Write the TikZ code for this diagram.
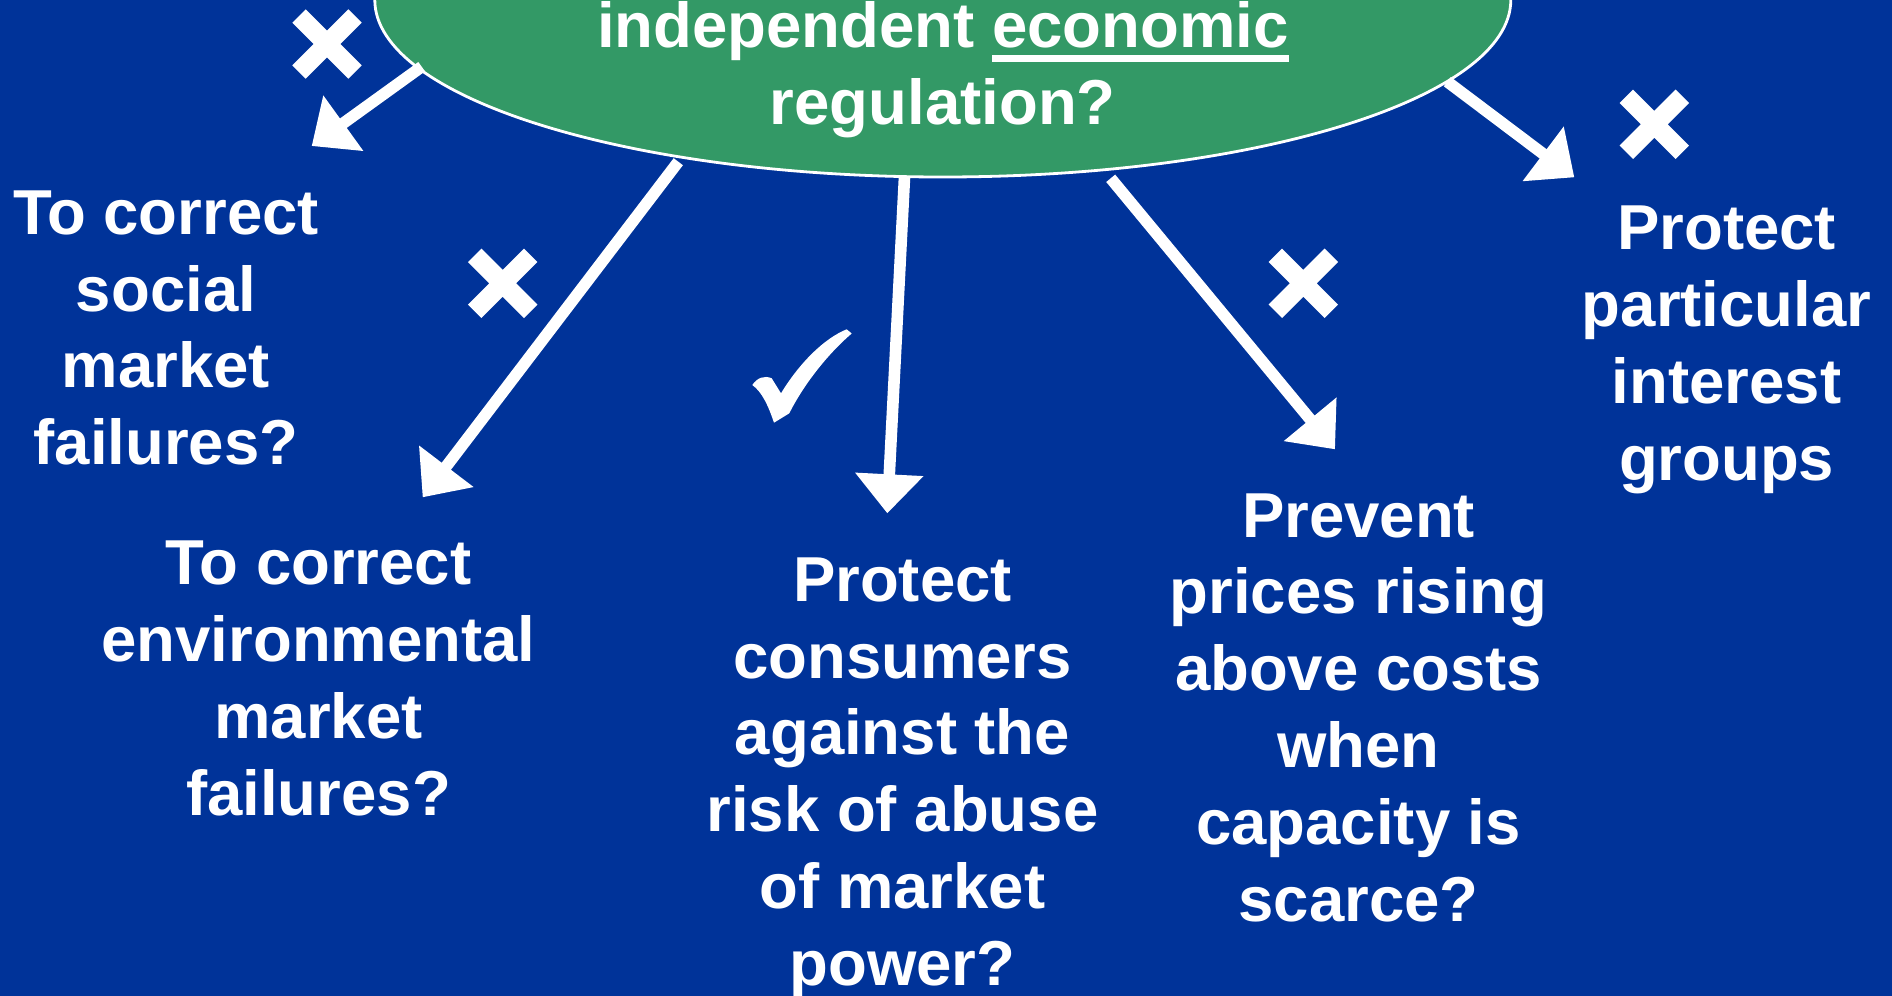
\documentclass[tikz,border=0pt]{standalone}
\usepackage{fontspec}
\setmainfont{Liberation Sans}
\usetikzlibrary{shapes.geometric,arrows.meta}
\definecolor{bgblue}{RGB}{0,51,153}
\definecolor{ovgreen}{RGB}{51,153,102}
\newcommand\thickul[1]{\setbox0\hbox{#1}\rlap{\rule[-7pt]{\wd0}{3.4pt}}\box0}
\tikzset{
  lbl/.style={text=white, font=\bfseries\fontsize{31.75}{38.4}\selectfont, align=center, inner sep=0pt},
  arr/.style={draw=white, line width=5.8pt, -{Triangle[width=33pt,length=19.5pt]}},
  xmark/.pic={\draw[white, line width=9.5pt, line cap=butt] (-28,-28) -- (28,28) (-28,28) -- (28,-28);}
}
\begin{document}
\begin{tikzpicture}[x=0.5pt,y=-0.5pt]
\useasboundingbox (0,0) rectangle (1892,996);
\fill[bgblue] (0,0) rectangle (1892,996);
% central ellipse
\node[ellipse, fill=ovgreen, draw=white, line width=1.4pt, minimum width=568pt, minimum height=177pt, inner sep=0pt] (q) at (942.8,0) {};
\node[lbl] (qt) at (942.8,70) {independent \thickul{economic}\\regulation?};
% answer texts
\node[lbl] (t1) at (166,328) {To correct\\social\\market\\failures?};
\node[lbl] (t2) at (318.5,678.5) {To correct\\environmental\\market\\failures?};
\node[lbl] (t3) at (902.5,778) {Protect\\consumers\\against the\\risk of abuse\\of market\\power?};
\node[lbl] (t4) at (1358.6,707.5) {Prevent\\prices rising\\above costs\\when\\capacity is\\scarce?};
\node[lbl] (t5) at (1726.6,350) {Protect\\particular\\interest\\groups};
% arrow end points
\coordinate (s1) at (421.7,66.7);   \coordinate (e1) at (311.7,146);
\coordinate (s2) at (678.3,161.7);  \coordinate (e2) at (422.7,497.3);
\coordinate (s3) at (904.5,177);    \coordinate (e3) at (887.3,513.3);
\coordinate (s4) at (1110.7,178.3); \coordinate (e4) at (1335,449.3);
\coordinate (s5) at (1447.3,81.7);  \coordinate (e5) at (1574.3,177.3);
\draw[arr] (s1) -- (e1);
\draw[arr] (s2) -- (e2);
\draw[arr] (s3) -- (e3);
\draw[arr] (s4) -- (e4);
\draw[arr] (s5) -- (e5);
% crosses
\pic at (327,44) {xmark};
\pic at (502.7,283.3) {xmark};
\pic at (1303.3,283.3) {xmark};
\pic at (1654.3,124.3) {xmark};
% check mark
\fill[white] (752.3,385) .. controls (757,378) and (764,375) .. (771.7,378.3)
  -- (781,393.3) .. controls (800,362) and (825,338) .. (846.7,329.3)
  -- (851.7,333.5) .. controls (830,352) and (805,382) .. (789.3,413.3)
  -- (774,422.7) .. controls (768,405) and (762,392) .. cycle;
\end{tikzpicture}
\end{document}
